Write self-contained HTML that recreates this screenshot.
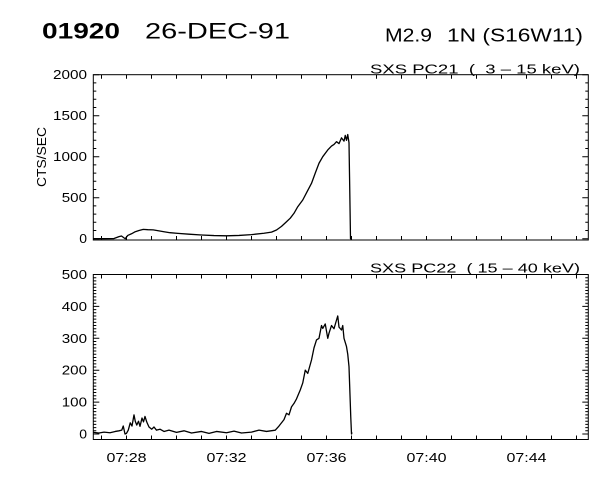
<!DOCTYPE html>
<html><head><meta charset="utf-8"><style>
html,body{margin:0;padding:0;background:#fff;}
svg{display:block;font-family:"Liberation Sans",sans-serif;}
</style></head><body>
<svg id="chart" width="600" height="480" viewBox="0 0 600 480">
<text x="42" y="38.5" font-size="22" font-weight="bold" textLength="78" lengthAdjust="spacingAndGlyphs">01920</text>
<text x="145" y="38.5" font-size="22" textLength="145" lengthAdjust="spacingAndGlyphs">26-DEC-91</text>
<text x="385" y="41.5" font-size="18" textLength="47" lengthAdjust="spacingAndGlyphs">M2.9</text>
<text x="447" y="41.5" font-size="18" textLength="136" lengthAdjust="spacingAndGlyphs">1N (S16W11)</text>
<text x="370" y="73.5" font-size="12.5" textLength="210" lengthAdjust="spacingAndGlyphs" xml:space="preserve">SXS PC21  (  3 – 15 keV)</text>
<text x="370" y="272.5" font-size="12.5" textLength="210" lengthAdjust="spacingAndGlyphs" xml:space="preserve">SXS PC22  ( 15 – 40 keV)</text>
<text transform="translate(46,157) rotate(-90)" font-size="12.5" text-anchor="middle" textLength="60" lengthAdjust="spacingAndGlyphs">CTS/SEC</text>
<g id="g"></g>
</svg>
<script>
const xTickLabels = ["07:28","07:32","07:36","07:40","07:44"];
const xTickMinutes = [0,4,8,12,16];
const topYTicks = [0,500,1000,1500,2000];
const botYTicks = [0,100,200,300,400,500];
const topT = [-1.33,-0.9,-0.5,-0.3,-0.2,-0.1,-0.05,0.05,0.2,0.35,0.5,0.67,0.85,1.07,1.3,1.5,1.74,2.06,2.5,3,3.5,4,4.5,5,5.5,5.8,6,6.2,6.4,6.55,6.7,6.85,7.05,7.2,7.4,7.55,7.7,7.85,8.05,8.2,8.3,8.4,8.5,8.6,8.7,8.75,8.8,8.85,8.9,8.93,8.96,9.0];
const topV = [0,0,2,25,33,10,0,40,60,85,100,114,110,108,95,85,73,65,55,45,38,35,40,50,66,80,106,150,207,250,310,390,472,560,675,800,920,1000,1082,1130,1150,1183,1160,1230,1190,1260,1200,1270,1170,600,0,0];
const botT = [-1.33,-1.1,-0.9,-0.66,-0.45,-0.3,-0.19,-0.13,-0.06,0.0,0.07,0.15,0.22,0.3,0.35,0.41,0.48,0.54,0.62,0.68,0.74,0.8,0.83,0.9,1.01,1.1,1.2,1.34,1.5,1.7,2.0,2.3,2.6,3,3.3,3.6,4,4.3,4.6,5,5.3,5.6,5.95,6.1,6.3,6.4,6.5,6.6,6.7,6.8,6.95,7.05,7.15,7.25,7.4,7.5,7.6,7.7,7.8,7.85,7.95,8.05,8.1,8.2,8.3,8.4,8.45,8.5,8.6,8.65,8.7,8.8,8.85,8.9,8.95,8.97,9.0,9.02];
const botV = [5,3,6,4,8,10,12,25,0,2,12,35,25,60,40,28,40,24,50,38,55,40,34,22,15,22,12,15,8,12,5,10,3,8,2,8,4,9,3,6,12,8,12,25,45,65,60,85,96,110,138,160,200,190,232,270,295,300,340,331,345,300,316,340,330,357,370,335,326,340,300,274,250,211,100,54,0,5];

const NS="http://www.w3.org/2000/svg";
const g=document.getElementById('g');
const X0=93.3, X1=588.3;
function xs(t){return 126.5+t*25;}
const tMin=(X0-126.5)/25, tMax=(X1-126.5)/25;
function mk(tag,attrs){const e=document.createElementNS(NS,tag);for(const k in attrs)e.setAttribute(k,attrs[k]);g.appendChild(e);return e;}

function panel(name,yTop,yBot,y0,pxPer,ticks,major,minor,T,V){
  const ys=v=>y0-v*pxPer;
  const box=mk('rect',{x:X0,y:yTop,width:X1-X0,height:yBot-yTop,fill:'none',stroke:'#000','stroke-width':1});
  
  
  let d='';
  for(let v=0; v<=ticks[ticks.length-1]; v+=minor){
    const y=ys(v); const L=(v%major===0)?6:3;
    d+=`M${X0},${y}h${L}M${X1},${y}h${-L}`;
  }
  for(let m=Math.ceil(tMin); m<=tMax; m++){
    const x=xs(m);
    d+=`M${x},${yBot}v-4M${x},${yTop}v4`;
  }
  const tk=mk('path',{d:d,stroke:'#000','stroke-width':1,fill:'none'});
  
  
  ticks.forEach(v=>{
    const s=String(v);
    const t=mk('text',{x:88-s.length*8.75,y:ys(v)+4.5,'font-size':12.5,textLength:s.length*8.75-1,lengthAdjust:'spacingAndGlyphs'});
    t.textContent=s;
    
    
  });
  let p='';
  T.forEach((t,i)=>{p+=(i?'L':'M')+xs(t).toFixed(2)+','+ys(V[i]).toFixed(2);});
  const ln=mk('path',{d:p,stroke:'#000','stroke-width':1.3,fill:'none','stroke-linejoin':'round'});
  
  
}
panel('top-panel',74.7,240,238.7,0.082,topYTicks,500,100,topT,topV);
panel('bottom-panel',274.5,439.5,434,0.319,botYTicks,100,10,botT,botV);
xTickLabels.forEach((s,i)=>{
  const t=mk('text',{x:xs(xTickMinutes[i])-20,y:462,'font-size':12.5,textLength:40,lengthAdjust:'spacingAndGlyphs'});
  t.textContent=s;
  
  
});
</script>
</body></html>
